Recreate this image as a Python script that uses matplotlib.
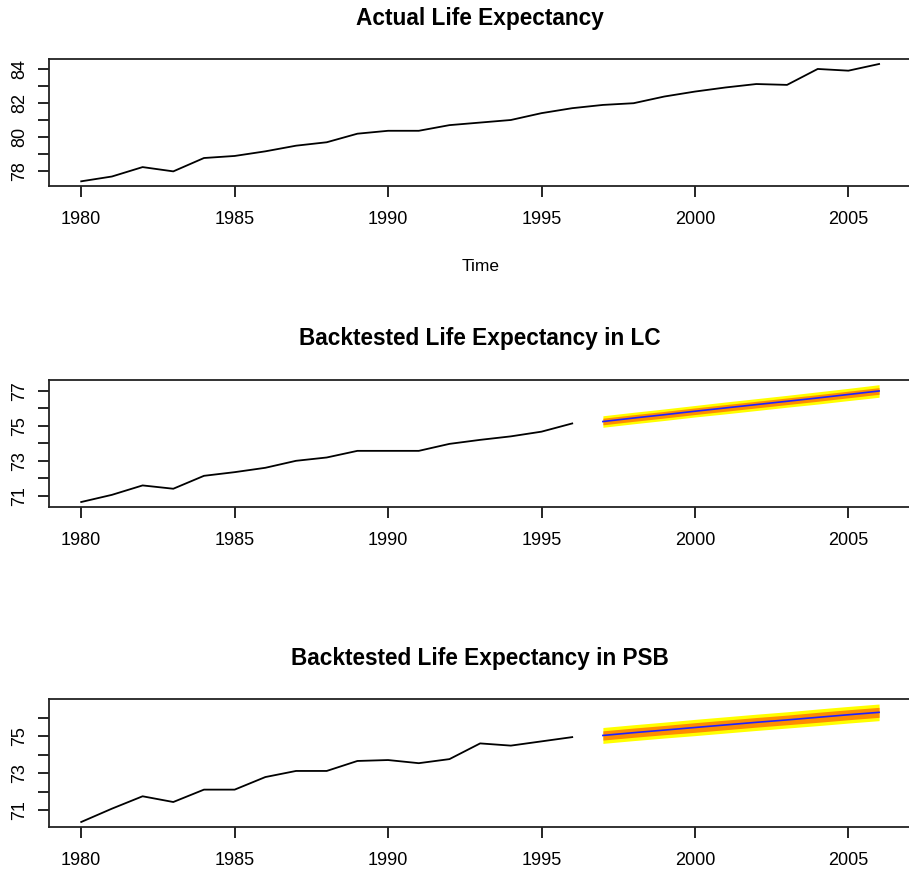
import matplotlib
matplotlib.use("Agg")
import matplotlib.pyplot as plt
import numpy as np

plt.rcParams['font.family'] = ['Liberation Sans', 'DejaVu Sans']

# years
years = list(range(1980, 2007))
hist_years = list(range(1980, 1997))
fc_years = list(range(1997, 2007))

# actual life expectancy 1980-2006
actual = [77.42, 77.70, 78.25, 78.00, 78.78, 78.90, 79.17, 79.50, 79.70, 80.20,
          80.37, 80.37, 80.70, 80.85, 81.00, 81.40, 81.69, 81.88, 81.98, 82.37,
          82.66, 82.90, 83.10, 83.05, 83.98, 83.88, 84.27]

# LC backtest: history and forecast
lc_hist = [70.64, 71.05, 71.59, 71.40, 72.14, 72.35, 72.60, 73.00, 73.19, 73.57,
           73.57, 73.57, 73.97, 74.20, 74.40, 74.67, 75.14]
lc_fc = [75.25, 75.45, 75.64, 75.84, 76.03, 76.22, 76.41, 76.60, 76.80, 77.00]
lc_inner = [0.19, 0.19, 0.19, 0.19, 0.19, 0.19, 0.19, 0.19, 0.19, 0.19]
lc_outer = [0.33, 0.33, 0.33, 0.33, 0.34, 0.34, 0.34, 0.35, 0.35, 0.36]

# PSB backtest: history and forecast
psb_hist = [70.37, 71.09, 71.76, 71.45, 72.12, 72.12, 72.80, 73.13, 73.13, 73.67,
            73.72, 73.55, 73.77, 74.62, 74.50, 74.73, 74.96]
psb_fc = [75.05, 75.20, 75.34, 75.48, 75.62, 75.76, 75.89, 76.03, 76.17, 76.30]
psb_inner = [0.25, 0.25, 0.25, 0.26, 0.26, 0.26, 0.26, 0.27, 0.27, 0.27]
psb_outer = [0.43, 0.43, 0.43, 0.44, 0.44, 0.44, 0.44, 0.45, 0.45, 0.45]

xticks = [1980, 1985, 1990, 1995, 2000, 2005]
yt1 = [78, 79, 80, 81, 82, 83, 84]
yl1 = ['78', '', '80', '', '82', '', '84']
yt2 = [71, 72, 73, 74, 75, 76, 77]
yl2 = ['71', '', '73', '', '75', '', '77']
yt3 = [71, 72, 73, 74, 75, 76]
yl3 = ['71', '', '73', '', '75', '']

W, H = 909, 874
fig = plt.figure(figsize=(W / 100, H / 100), dpi=100)


def px_axes(top, bottom, left=49.3, right=911):
    return fig.add_axes([left / W, 1 - bottom / H, (right - left) / W, (bottom - top) / H])


def style(ax, yt, yl, title):
    ax.set_xticks(xticks)
    ax.set_yticks(yt)
    ax.set_yticklabels(yl, rotation=90, va='center')
    ax.tick_params(direction='out', length=8, width=1.2, labelsize=13, colors='black')
    ax.tick_params(axis='x', pad=10)
    ax.tick_params(axis='y', pad=7)
    for s in ax.spines.values():
        s.set_linewidth(1.3)
        s.set_color('#222222')
    ax.margins(x=0.04, y=0.04)
    ax.set_title(title, fontsize=16.3, fontweight='bold', pad=25)


ax1 = px_axes(59.3, 186)
ax1.plot(years, actual, color='black', lw=1.3)
style(ax1, yt1, yl1, 'Actual Life Expectancy')
ax1.set_xlabel('Time', fontsize=12.5, labelpad=22)


def fan(ax, hist, fc, inner, outer):
    fc = np.array(fc)
    inner = np.array(inner)
    outer = np.array(outer)
    ax.plot(hist_years, hist, color='black', lw=1.3)
    ax.fill_between(fc_years, fc - outer, fc + outer, color='#FFFF00', lw=0)
    ax.fill_between(fc_years, fc - inner, fc + inner, color='#FF8C00', lw=0)
    ax.plot(fc_years, fc, color='#2020FF', lw=1.2)


ax2 = px_axes(380, 506.7)
fan(ax2, lc_hist, lc_fc, lc_inner, lc_outer)
style(ax2, yt2, yl2, 'Backtested Life Expectancy in LC')

ax3 = px_axes(699.3, 826.7)
fan(ax3, psb_hist, psb_fc, psb_inner, psb_outer)
style(ax3, yt3, yl3, 'Backtested Life Expectancy in PSB')

fig.savefig('out.png', dpi=100)
